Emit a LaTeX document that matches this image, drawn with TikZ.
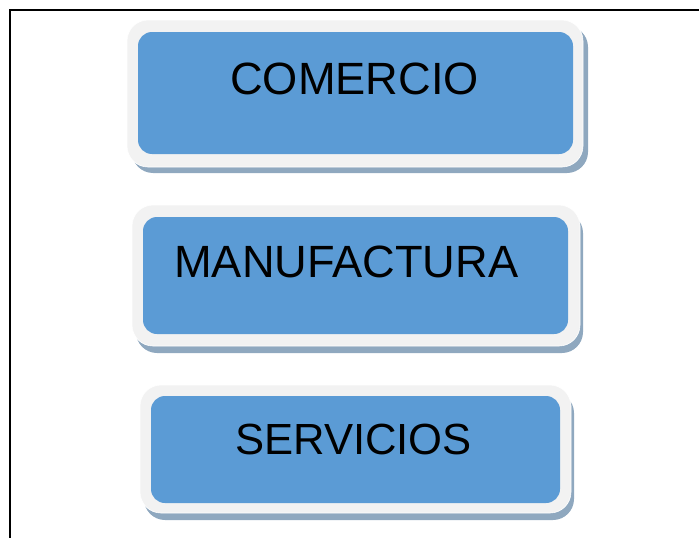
\documentclass[tikz,border=0pt]{standalone}
\usepackage{fontspec}
\setmainfont{Liberation Sans}
\definecolor{boxblue}{HTML}{5B9BD5}
\definecolor{rimgrey}{HTML}{F2F2F2}
\definecolor{shadowblue}{HTML}{8FA8BF}
\begin{document}
\begin{tikzpicture}[x=1pt,y=-1pt,
  shadowbox/.style={fill=shadowblue,draw=none,rounded corners=21pt},
  rimbox/.style={fill=rimgrey,draw=white,line width=0.6pt,rounded corners=21pt},
  bluebox/.style={fill=boxblue,draw=none,rounded corners=14pt},
  label/.style={anchor=base west,inner sep=0pt,font=\fontsize{45.2}{50}\selectfont,text=black},
  smalllabel/.style={label,font=\fontsize{43.6}{50}\selectfont},
  frameline/.style={draw=black,line width=1.3pt}]
\useasboundingbox (0,0) rectangle (699,538);
\coordinate (fa) at (10,538);
\coordinate (fb) at (10,10);
\coordinate (fc) at (699,10);
\draw[frameline] (fa) -- (fb) -- (fc);
% box 1
\path[shadowbox] (132,26) rectangle (588,173);
\path[rimbox] (127,20) rectangle (583,167);
\path[bluebox] (138,32) rectangle (573,154);
\node[label] (comercio) at (230,94) {COMERCIO};
% box 2
\path[shadowbox] (136,212) rectangle (583,353);
\path[rimbox] (132,205) rectangle (580,346);
\path[bluebox] (143,217) rectangle (568,334);
\node[label] (manufactura) at (174,277) {MANUFACTURA};
% box 3
\path[shadowbox] (144,392) rectangle (574,520);
\path[rimbox] (140,385) rectangle (571,513);
\path[bluebox] (151,396) rectangle (560,503);
\node[smalllabel] (servicios) at (235,454) {SERVICIOS};
\end{tikzpicture}
\end{document}
